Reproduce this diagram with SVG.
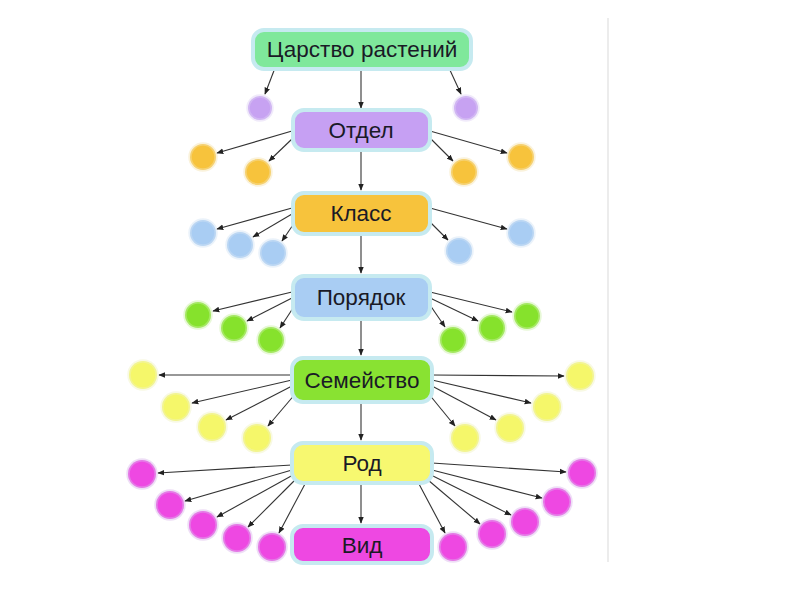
<svg xmlns="http://www.w3.org/2000/svg" width="800" height="600" viewBox="0 0 800 600">
<defs>
<marker id="ah" viewBox="0 0 10 10" refX="9" refY="5" markerWidth="7" markerHeight="7" orient="auto" markerUnits="userSpaceOnUse"><path d="M0,1 L10,5 L0,9 z" fill="#222"/></marker>
</defs>
<style>
.box{stroke:#c6eaf0;stroke-width:4}
.lbl{font-family:"Liberation Sans",Arial,sans-serif;font-size:22.5px;fill:#1a1a26;text-anchor:middle;dominant-baseline:central}
.e{stroke:#333;stroke-width:1.1;fill:none;marker-end:url(#ah)}
.c{stroke-width:3.5;stroke-opacity:0.45}
.p{fill:#c7a2f2;stroke:#ddd0f5}
.o{fill:#f7c33c;stroke:#f5e3b0}
.b{fill:#a9cdf3;stroke:#d0e3f5}
.g{fill:#86e22c;stroke:#c9efa5}
.y{fill:#f5f76a;stroke:#f0f2c0}
.m{fill:#ee48e2;stroke:#d9b6ea}
</style>
<rect width="800" height="600" fill="#ffffff"/>
<line x1="608" y1="18" x2="608" y2="562" stroke="#e6e6e6" stroke-width="1.5"/>

<g id="connectors">
<line class="e" x1="361" y1="70" x2="361" y2="108"/>
<line class="e" x1="361" y1="150" x2="361" y2="190"/>
<line class="e" x1="361" y1="235" x2="361" y2="273"/>
<line class="e" x1="361" y1="320" x2="361" y2="355"/>
<line class="e" x1="361" y1="403" x2="361" y2="440"/>
<line class="e" x1="361" y1="483" x2="361" y2="523"/>
<line class="e" x1="275" y1="68" x2="265" y2="94"/>
<line class="e" x1="449" y1="68" x2="461" y2="94"/>
<line class="e" x1="292" y1="131" x2="217" y2="153"/>
<line class="e" x1="293" y1="138" x2="269" y2="161"/>
<line class="e" x1="430" y1="138" x2="453" y2="161"/>
<line class="e" x1="430" y1="131" x2="507" y2="153"/>
<line class="e" x1="292" y1="208" x2="217" y2="229"/>
<line class="e" x1="292" y1="214" x2="253" y2="237"/>
<line class="e" x1="295" y1="222" x2="282" y2="241"/>
<line class="e" x1="430" y1="222" x2="448" y2="240"/>
<line class="e" x1="430" y1="208" x2="507" y2="229"/>
<line class="e" x1="292" y1="292" x2="213" y2="311"/>
<line class="e" x1="292" y1="298" x2="247" y2="321"/>
<line class="e" x1="295" y1="305" x2="280" y2="328"/>
<line class="e" x1="430" y1="305" x2="445" y2="327"/>
<line class="e" x1="430" y1="298" x2="478" y2="321"/>
<line class="e" x1="430" y1="292" x2="512" y2="312"/>
<line class="e" x1="292" y1="375" x2="159" y2="375"/>
<line class="e" x1="292" y1="380" x2="192" y2="403"/>
<line class="e" x1="292" y1="386" x2="226" y2="420"/>
<line class="e" x1="296" y1="393" x2="268" y2="426"/>
<line class="e" x1="428" y1="393" x2="455" y2="426"/>
<line class="e" x1="432" y1="386" x2="496" y2="420"/>
<line class="e" x1="432" y1="380" x2="531" y2="403"/>
<line class="e" x1="432" y1="375" x2="564" y2="376"/>
<line class="e" x1="292" y1="465" x2="158" y2="473"/>
<line class="e" x1="292" y1="470" x2="185" y2="501"/>
<line class="e" x1="293" y1="475" x2="217" y2="517"/>
<line class="e" x1="295" y1="480" x2="248" y2="527"/>
<line class="e" x1="305" y1="484" x2="279" y2="533"/>
<line class="e" x1="419" y1="484" x2="445" y2="533"/>
<line class="e" x1="428" y1="480" x2="480" y2="524"/>
<line class="e" x1="431" y1="475" x2="511" y2="515"/>
<line class="e" x1="432" y1="470" x2="542" y2="498"/>
<line class="e" x1="432" y1="463" x2="566" y2="472"/>
</g>

<g id="n-kingdom"><rect class="box" x="253" y="30" width="218" height="39" rx="11" fill="#7fe89b"/><text class="lbl" x="362" y="49">Царство растений</text></g>
<g id="n-division"><rect class="box" x="293" y="110" width="137" height="40" rx="11" fill="#c6a0f3"/><text class="lbl" x="361" y="130">Отдел</text></g>
<g id="n-class"><rect class="box" x="293" y="193" width="137" height="41" rx="11" fill="#f7c33c"/><text class="lbl" x="361" y="213">Класс</text></g>
<g id="n-order"><rect class="box" x="293" y="276" width="137" height="43" rx="11" fill="#a9cdf3"/><text class="lbl" x="361" y="297">Порядок</text></g>
<g id="n-family"><rect class="box" x="292" y="358" width="140" height="44" rx="11" fill="#89e232"/><text class="lbl" x="362" y="380">Семейство</text></g>
<g id="n-genus"><rect class="box" x="292" y="443" width="140" height="40" rx="11" fill="#f7f870"/><text class="lbl" x="362" y="463">Род</text></g>
<g id="n-species"><rect class="box" x="292" y="526" width="140" height="37" rx="11" fill="#ee48e2"/><text class="lbl" x="362" y="545">Вид</text></g>

<g id="c-l1"><circle class="c p" cx="260" cy="108" r="12"/><circle class="c p" cx="466" cy="108" r="12"/></g>
<g id="c-l2"><circle class="c o" cx="203" cy="157" r="13"/><circle class="c o" cx="258" cy="172" r="13"/><circle class="c o" cx="464" cy="172" r="13"/><circle class="c o" cx="521" cy="157" r="13"/></g>
<g id="c-l3"><circle class="c b" cx="203" cy="233" r="13"/><circle class="c b" cx="240" cy="245" r="13"/><circle class="c b" cx="273" cy="253" r="13"/><circle class="c b" cx="459" cy="251" r="13"/><circle class="c b" cx="521" cy="233" r="13"/></g>
<g id="c-l4"><circle class="c g" cx="198" cy="315" r="13"/><circle class="c g" cx="234" cy="328" r="13"/><circle class="c g" cx="271" cy="340" r="13"/><circle class="c g" cx="453" cy="340" r="13"/><circle class="c g" cx="492" cy="328" r="13"/><circle class="c g" cx="527" cy="316" r="13"/></g>
<g id="c-l5"><circle class="c y" cx="143" cy="375" r="14"/><circle class="c y" cx="176" cy="407" r="14"/><circle class="c y" cx="212" cy="427" r="14"/><circle class="c y" cx="257" cy="438" r="14"/><circle class="c y" cx="465" cy="438" r="14"/><circle class="c y" cx="510" cy="428" r="14"/><circle class="c y" cx="547" cy="407" r="14"/><circle class="c y" cx="580" cy="376" r="14"/></g>
<g id="c-l6"><circle class="c m" cx="142" cy="474" r="14"/><circle class="c m" cx="170" cy="505" r="14"/><circle class="c m" cx="203" cy="525" r="14"/><circle class="c m" cx="237" cy="538" r="14"/><circle class="c m" cx="272" cy="547" r="14"/><circle class="c m" cx="453" cy="547" r="14"/><circle class="c m" cx="492" cy="534" r="14"/><circle class="c m" cx="525" cy="522" r="14"/><circle class="c m" cx="557" cy="502" r="14"/><circle class="c m" cx="582" cy="473" r="14"/></g>
</svg>
